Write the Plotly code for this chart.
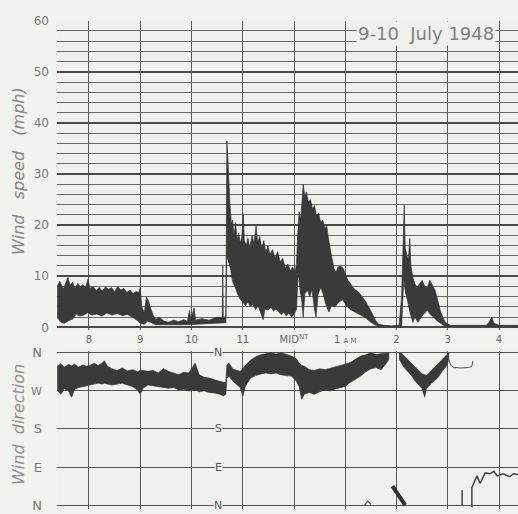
import plotly.graph_objects as go

# ---------------- data (hours: 20 = 8 pm, 24 = midnight, 28 = 4 am) ----------------
hour_ticks = [20, 21, 22, 23, 24, 25, 26, 27, 28]
hour_labels = ["8", "9", "10", "11", "MID<sup>NT</sup>", "1 <span style='font-size:7px'>A M</span>", "2", "3", "4"]

speed_ticks = [0, 10, 20, 30, 40, 50, 60]
dir_ticks = [0, 90, 180, 270, 360]
dir_labels = ["N", "E", "S", "<span style='font-size:11px'>W</span>", "N"]

# wind speed trace envelope (mph)
spd_up_t = [19.38, 19.43, 19.50, 19.55, 19.59, 19.63, 19.68, 19.73, 19.78, 19.83, 19.88, 19.93, 19.98,
            20.02, 20.08, 20.14, 20.20, 20.26, 20.32, 20.38, 20.44, 20.50, 20.56, 20.62, 20.68, 20.74,
            20.80, 20.86, 20.92, 20.97, 21.00, 21.03, 21.08, 21.12, 21.16, 21.20, 21.25, 21.30, 21.38,
            21.45, 21.55, 21.65, 21.75, 21.85, 21.92, 21.96, 21.99, 22.05, 22.08, 22.20, 22.35, 22.50,
            22.60, 22.61, 22.62, 22.67, 22.69, 22.71, 22.73, 22.75, 22.78, 22.80, 22.83, 22.86, 22.89,
            22.92, 22.95, 22.98, 23.01, 23.03, 23.07, 23.10, 23.14, 23.18, 23.22, 23.26, 23.29, 23.33,
            23.37, 23.41, 23.45, 23.49, 23.53, 23.58, 23.63, 23.68, 23.73, 23.78, 23.83, 23.88, 23.93,
            23.97, 24.02, 24.05, 24.07, 24.10, 24.13, 24.16, 24.18, 24.21, 24.24, 24.28, 24.32, 24.36,
            24.40, 24.44, 24.48, 24.52, 24.56, 24.60, 24.64, 24.67, 24.70, 24.74, 24.78, 24.82, 24.86,
            24.90, 24.95, 25.00, 25.05, 25.10, 25.15, 25.20, 25.25, 25.30, 25.35, 25.40, 25.45, 25.50,
            25.55, 25.60, 25.65, 25.75, 25.90, 26.05, 26.10, 26.12, 26.15, 26.17, 26.20, 26.23, 26.26,
            26.28, 26.32, 26.36, 26.40, 26.45, 26.50, 26.55, 26.60, 26.65, 26.70, 26.75, 26.80, 26.85,
            26.90, 26.95, 27.05, 27.40, 27.75, 27.80, 27.86, 27.90, 28.00, 28.37]
spd_up = [8.0, 9.0, 7.5, 8.6, 9.8, 8.2, 8.8, 7.6, 8.6, 7.9, 8.4, 7.7, 9.4,
          7.6, 8.0, 7.2, 7.8, 7.1, 7.9, 7.4, 7.8, 6.9, 8.0, 7.3, 7.6, 6.8,
          7.3, 6.6, 7.0, 6.8, 7.8, 4.0, 2.8, 5.9, 5.2, 3.8, 2.4, 1.6, 1.9,
          1.3, 1.0, 1.4, 1.1, 1.5, 1.2, 3.3, 1.5, 3.8, 1.4, 1.7, 1.4, 2.0,
          1.8, 12.0, 1.8, 2.2, 36.5, 33.0, 28.0, 24.0, 20.0, 21.0, 18.0, 20.5, 17.0,
          18.5, 16.5, 17.5, 22.2, 17.0, 16.0, 17.5, 15.5, 18.0, 16.5, 19.8, 16.5, 17.8,
          15.5, 17.0, 14.6, 16.0, 14.2, 15.2, 13.5, 14.8, 12.8, 13.5, 11.6, 12.4, 11.0,
          11.8, 10.8, 12.5, 18.0, 22.6, 21.0, 26.5, 28.0, 25.5, 26.5, 24.5, 25.0, 23.2,
          23.8, 21.8, 22.4, 20.5, 21.0, 19.5, 19.8, 17.5, 15.5, 13.5, 11.5, 10.8, 11.8,
          12.0, 11.7, 10.5, 9.2, 8.6, 7.8, 7.3, 7.0, 6.4, 5.8, 5.0, 4.1, 3.2,
          2.0, 1.2, 0.6, 0.4, 0.3, 0.4, 6.0, 12.0, 23.9, 15.5, 14.3, 13.0, 17.4,
          12.0, 9.7, 8.5, 7.8, 8.6, 9.2, 8.0, 7.8, 9.2, 8.2, 7.3, 5.5, 3.4,
          2.0, 1.0, 0.4, 0.4, 0.4, 0.9, 2.0, 0.8, 0.4, 0.4]

spd_lo_t = [19.38, 19.45, 19.52, 19.60, 19.68, 19.75, 19.82, 19.90, 19.98, 20.05, 20.15, 20.25, 20.35,
            20.45, 20.55, 20.65, 20.75, 20.85, 20.95, 21.00, 21.08, 21.14, 21.20, 21.30, 21.50, 21.80,
            22.10, 22.40, 22.67, 22.69, 22.72, 22.76, 22.80, 22.85, 22.90, 22.95, 23.00, 23.05, 23.10,
            23.15, 23.20, 23.25, 23.30, 23.35, 23.40, 23.43, 23.50, 23.55, 23.60, 23.65, 23.70, 23.75,
            23.80, 23.85, 23.90, 23.95, 24.00, 24.05, 24.08, 24.12, 24.15, 24.18, 24.21, 24.26, 24.31,
            24.35, 24.40, 24.43, 24.47, 24.52, 24.57, 24.62, 24.68, 24.73, 24.80, 24.88, 24.95, 25.02,
            25.10, 25.20, 25.30, 25.40, 25.50, 25.60, 25.70, 26.10, 26.14, 26.17, 26.21, 26.26, 26.32,
            26.36, 26.42, 26.48, 26.55, 26.60, 26.66, 26.72, 26.80, 26.85, 26.95, 28.37]
spd_lo = [2.0, 1.0, 0.8, 1.3, 1.6, 2.6, 2.2, 2.4, 2.9, 2.4, 2.6, 2.2, 2.8,
          2.4, 2.7, 2.3, 2.5, 2.0, 1.3, 0.8, 0.6, 1.2, 1.0, 0.5, 0.5, 0.5,
          0.6, 0.7, 0.9, 14.0, 13.0, 11.5, 9.0, 7.9, 6.5, 5.5, 5.0, 4.2, 5.0,
          4.0, 4.5, 3.5, 4.2, 3.0, 1.5, 3.6, 3.4, 4.0, 3.2, 3.6, 3.0, 2.5,
          3.0, 2.2, 2.8, 2.0, 2.5, 3.5, 11.0, 7.0, 5.4, 2.0, 6.5, 7.3, 6.0,
          7.5, 3.5, 2.0, 6.5, 7.8, 6.5, 4.5, 3.0, 4.2, 4.0, 5.0, 5.4, 4.2,
          3.5, 2.9, 2.4, 1.8, 1.0, 0.4, 0.1, 0.1, 9.7, 7.0, 5.4, 3.0, 1.0,
          2.0, 1.0, 2.0, 2.8, 3.4, 2.5, 2.0, 1.2, 0.8, 0.2, 0.1]

# wind direction band (degrees; 0/360 = N, 90 = E, 180 = S, 270 = W)
dir_a_t = [19.38, 19.45, 19.52, 19.60, 19.66, 19.72, 19.80, 19.88, 19.95, 20.02, 20.10, 20.18, 20.26,
           20.30, 20.36, 20.45, 20.55, 20.65, 20.75, 20.85, 20.95, 21.00, 21.05, 21.15, 21.25, 21.35,
           21.45, 21.55, 21.65, 21.75, 21.85, 21.95, 22.07, 22.15, 22.25, 22.35, 22.45, 22.55, 22.62,
           22.67, 22.69, 22.73, 22.80, 22.88, 22.95, 23.00, 23.05, 23.15, 23.25, 23.35, 23.45, 23.55,
           23.65, 23.75, 23.85, 23.95, 24.05, 24.10, 24.15, 24.20, 24.30, 24.40, 24.50, 24.60, 24.70,
           24.80, 24.90, 25.00, 25.10, 25.20, 25.30, 25.40, 25.50, 25.60, 25.70, 25.80, 25.85]
dir_a_up = [328, 334, 326, 332, 329, 333, 326, 331, 328, 330, 335, 330, 336,
            341, 328, 322, 318, 324, 317, 320, 315, 318, 318, 316, 318, 312,
            322, 316, 312, 308, 314, 312, 335, 308, 302, 300, 296, 292, 290,
            290, 330, 336, 322, 318, 316, 322, 330, 342, 350, 355, 358, 360,
            357, 360, 356, 352, 345, 335, 330, 328, 320, 318, 322, 320, 323,
            326, 330, 333, 337, 345, 352, 355, 360, 356, 358, 360, 360]
dir_a_lo = [272, 262, 275, 270, 255, 274, 278, 280, 282, 284, 286, 288, 286,
            288, 286, 284, 286, 288, 284, 280, 272, 262, 276, 284, 282, 280,
            278, 276, 278, 272, 274, 270, 272, 268, 270, 266, 265, 262, 258,
            262, 300, 305, 294, 286, 278, 258, 280, 300, 306, 310, 312, 310,
            312, 308, 306, 305, 292, 280, 250, 262, 266, 262, 268, 272, 270,
            274, 278, 281, 290, 298, 305, 315, 322, 325, 320, 335, 345]

dir_b_t = [26.05, 26.10, 26.15, 26.20, 26.25, 26.30, 26.35, 26.40, 26.45, 26.50, 26.55, 26.58, 26.62,
           26.70, 26.80, 26.90, 26.98, 27.02]
dir_b_up = [360, 358, 352, 346, 340, 334, 328, 322, 315, 310, 308, 306, 310, 320, 330, 345, 355, 360]
dir_b_lo = [345, 335, 325, 318, 312, 305, 295, 288, 282, 275, 255, 275, 280, 290, 300, 318, 330, 345]

# thin pen line after 3 am (near N-NW)
dir_c_t = [27.02, 27.06, 27.12, 27.25, 27.40, 27.47, 27.49]
dir_c = [345, 330, 325, 324, 325, 328, 340]

# wrap-around segments drawn at the bottom N line
dir_d_t = [25.92, 25.98, 26.05, 26.12, 26.17]
dir_d = [45, 35, 22, 10, 0]
dir_e_t = [25.38, 25.44, 25.50]
dir_e = [0, 10, 2]
dir_f_t = [27.28, 27.28, None, 27.47, 27.47, 27.52, 27.57, 27.63, 27.68, 27.73, 27.82, 27.90, 27.96,
           28.02, 28.08, 28.15, 28.21, 28.28, 28.37]
dir_f = [0, 35, None, -5, 41, 55, 69, 51, 62, 76, 74, 80, 69, 72, 74, 70, 67, 74, 72]

# ---------------- styling ----------------
W, H = 518, 514
PAPER = "#f2f2ef"
PLOT = "#f0f0ec"
INK = "#3a3a3a"
GRID = "#5a5a5a"
LABEL = "#7a7a7a"

x_lo, x_hi = 19.376, 28.37
x_dom = [57 / W, 1.0]

fig = go.Figure()

# speed band polygon
fig.add_trace(go.Scatter(
    x=spd_up_t + spd_lo_t[::-1], y=spd_up + spd_lo[::-1],
    fill="toself", fillcolor=INK, mode="lines",
    line=dict(color="#333333", width=0.7), xaxis="x", yaxis="y",
    hoverinfo="skip", showlegend=False))

# direction band polygons
for tt, up, lo in [(dir_a_t, dir_a_up, dir_a_lo), (dir_b_t, dir_b_up, dir_b_lo)]:
    fig.add_trace(go.Scatter(
        x=tt + tt[::-1], y=up + lo[::-1],
        fill="toself", fillcolor=INK, mode="lines",
        line=dict(color="#333333", width=0.7), xaxis="x2", yaxis="y2",
        hoverinfo="skip", showlegend=False))

fig.add_trace(go.Scatter(x=dir_c_t, y=dir_c, mode="lines", line=dict(color="#555555", width=1),
                         xaxis="x2", yaxis="y2", showlegend=False, hoverinfo="skip"))
fig.add_trace(go.Scatter(x=dir_d_t, y=dir_d, mode="lines", line=dict(color="#333333", width=4),
                         xaxis="x2", yaxis="y2", showlegend=False, hoverinfo="skip"))
fig.add_trace(go.Scatter(x=dir_e_t, y=dir_e, mode="lines", line=dict(color="#555555", width=1.2),
                         xaxis="x2", yaxis="y2", showlegend=False, hoverinfo="skip"))
fig.add_trace(go.Scatter(x=dir_f_t, y=dir_f, mode="lines", line=dict(color="#444444", width=1.5),
                         xaxis="x2", yaxis="y2", showlegend=False, hoverinfo="skip",
                         connectgaps=False))

top_dom = [1 - 330.6 / H, 1 - 14 / H]
bot_dom = [0.0, 1 - 352 / H]

fig.update_layout(
    width=W, height=H,
    margin=dict(l=0, r=0, t=0, b=0),
    paper_bgcolor=PAPER, plot_bgcolor=PLOT,
    font=dict(family="DejaVu Sans", color=LABEL),
    xaxis=dict(domain=x_dom, range=[x_lo, x_hi], anchor="y",
               tickmode="array", tickvals=hour_ticks, ticktext=hour_labels,
               tickfont=dict(size=10, color="#6a6a6a"), ticks="", ticklabelstandoff=2,
               showgrid=True, gridcolor=GRID, gridwidth=1.2, zeroline=False, showline=False),
    yaxis=dict(domain=top_dom, range=[-0.5, 60], anchor="x",
               tickmode="array", tickvals=speed_ticks,
               tickfont=dict(size=12, color=LABEL), ticks="", ticklabelstandoff=7,
               showgrid=True, gridcolor="#4a4a4a", gridwidth=1.6, zeroline=False, showline=False,
               minor=dict(dtick=2, tick0=0, showgrid=True, gridcolor="#6a6a6a", gridwidth=1)),
    xaxis2=dict(domain=x_dom, range=[x_lo, x_hi], anchor="y2",
                tickmode="array", tickvals=hour_ticks, showticklabels=False,
                showgrid=True, gridcolor=GRID, gridwidth=1.2, zeroline=False, showline=False),
    yaxis2=dict(domain=bot_dom, range=[-9.2, 364.6], anchor="x2",
                tickmode="array", tickvals=dir_ticks, ticktext=dir_labels,
                tickfont=dict(size=13, color=LABEL), ticks="", ticklabelstandoff=14,
                showgrid=True, gridcolor="#555555", gridwidth=1.3, zeroline=False, showline=False),
)

annotations = [
    dict(text="<i>Wind   speed   (mph)</i>", x=18 / W, y=1 - 168 / H, xref="paper", yref="paper",
         xanchor="center", yanchor="middle",
         textangle=-90, showarrow=False, font=dict(size=16, color="#858585")),
    dict(text="<i>Wind  direction</i>", x=18 / W, y=1 - 428 / H, xref="paper", yref="paper",
         xanchor="center", yanchor="middle",
         textangle=-90, showarrow=False, font=dict(size=16, color="#909090")),
    dict(text="9-10  July 1948", x=356 / W, y=1 - 27 / H, xref="paper", yref="paper",
         xanchor="left", yanchor="middle", showarrow=False, bgcolor=PLOT,
         font=dict(family="DejaVu Sans", size=18, color="#808080")),
]
for lab, val in [("N", 360), ("S", 180), ("E", 90), ("N", 0)]:
    annotations.append(dict(text=lab, x=22.52, y=val, xref="x2", yref="y2", showarrow=False,
                            xanchor="center", yanchor="middle",
                            bgcolor=PLOT, borderpad=0, font=dict(size=11, color="#555555")))
fig.update_layout(annotations=annotations)

fig.write_html("out.html")
